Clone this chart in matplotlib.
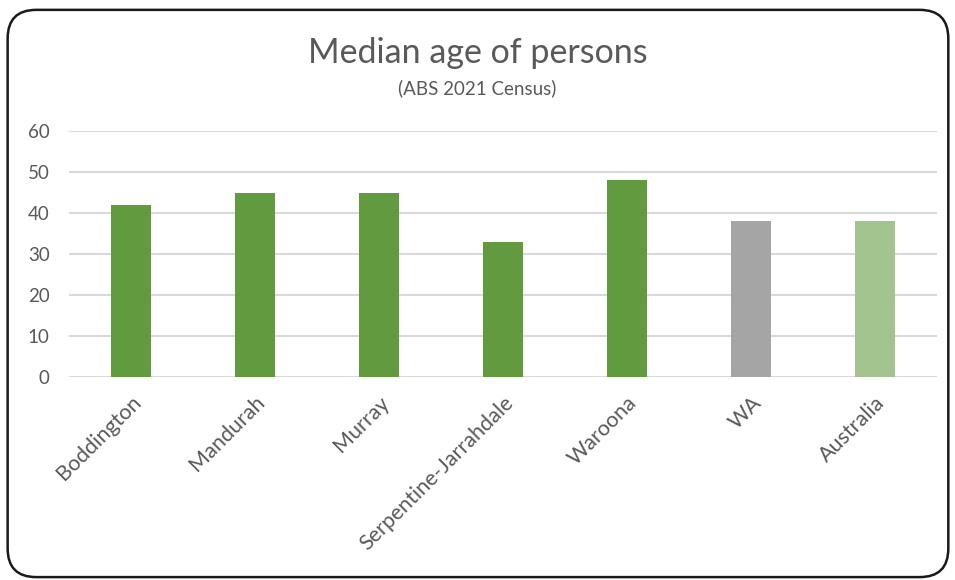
import matplotlib.pyplot as plt
from matplotlib.patches import FancyBboxPatch

regions = ["Boddington", "Mandurah", "Murray", "Serpentine-Jarrahdale",
           "Waroona", "WA", "Australia"]
median_age = [42, 45, 45, 33, 48, 38, 38]
bar_colors = ["#629a3f", "#629a3f", "#629a3f", "#629a3f",
              "#629a3f", "#a5a5a5", "#a3c48f"]
yticks = [0, 10, 20, 30, 40, 50, 60]

plt.rcParams['font.family'] = ['Lato', 'DejaVu Sans']
text_col = "#595959"

fig = plt.figure(figsize=(9.55, 5.8), dpi=100)
ax = fig.add_axes([0.0723, 0.35, 0.9087, 0.424])

x = range(len(regions))
ax.bar(x, median_age, width=0.32, color=bar_colors, zorder=3)

ax.set_xlim(-0.5, len(regions) - 0.5)
ax.set_ylim(0, 60)
ax.set_yticks(yticks)
ax.set_yticklabels([str(v) for v in yticks], fontsize=13.5, color=text_col)
ax.set_xticks(list(x))
ax.set_xticklabels(regions, rotation=45, ha="right", rotation_mode="anchor",
                   fontsize=15.5, color=text_col)
ax.tick_params(length=0)
ax.tick_params(axis="y", pad=14)
ax.tick_params(axis="x", pad=11)
ax.grid(axis="y", color="#d9d9d9", linewidth=1.5, zorder=0)
for s in ax.spines.values():
    s.set_visible(False)

fig.text(0.5, 0.908, "Median age of persons", ha="center", va="center",
         fontsize=24.5, color=text_col)
fig.text(0.5, 0.848, "(ABS 2021 Census)", ha="center", va="center",
         fontsize=13.5, color=text_col)

# rounded outer frame
frame = FancyBboxPatch((0.008, 0.005), 0.985, 0.978,
                       boxstyle="round,pad=0,rounding_size=0.03",
                       transform=fig.transFigure, fill=False,
                       edgecolor="#1a1a1a", linewidth=1.8,
                       mutation_aspect=955 / 580)
fig.patches.append(frame)

fig.savefig("out.png", dpi=100)
